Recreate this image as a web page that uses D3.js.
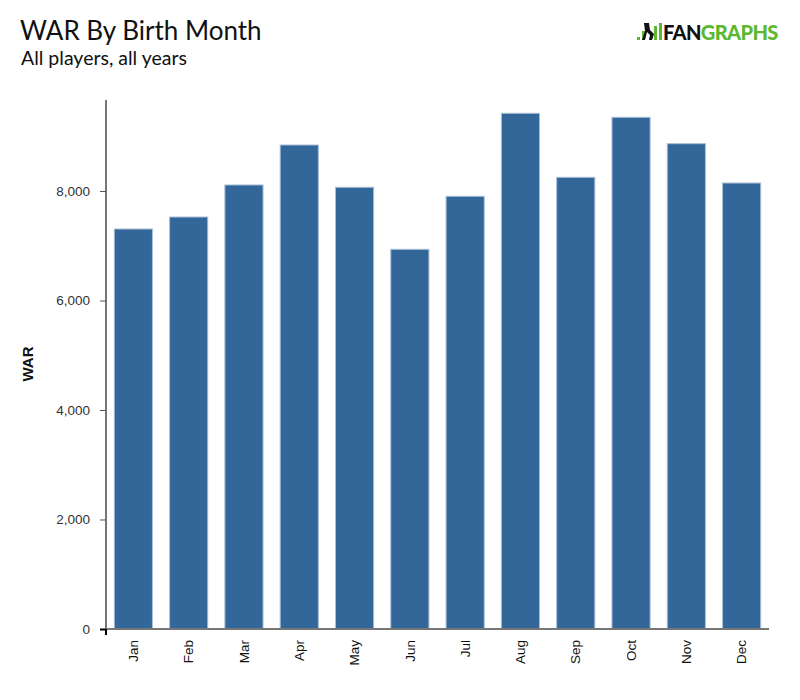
<!DOCTYPE html>
<html>
<head>
<meta charset="utf-8">
<script src="https://cdn.jsdelivr.net/npm/d3@7"></script>
<style>
  body { margin: 0; background: #fff; }
  svg { display: block; }
</style>
</head>
<body>
<div id="chart"></div>
<script>
// month labels and WAR totals
const months = ["Jan", "Feb", "Mar", "Apr", "May", "Jun", "Jul", "Aug", "Sep", "Oct", "Nov", "Dec"];
const war = [7306, 7525, 8110, 8840, 8068, 6935, 7903, 9419, 8250, 9346, 8864, 8146];
const yTicks = [0, 2000, 4000, 6000, 8000];

const W = 800, H = 700;
const margin = { top: 100, right: 31, bottom: 71, left: 106 };
const width = W - margin.left - margin.right,
    height = H - margin.top - margin.bottom;

const svg = d3.select("#chart").append("svg")
    .attr("width", W)
    .attr("height", H);

// titles
svg.append("text")
    .attr("x", 20).attr("y", 40)
    .style("font-family", "Lato")
    .style("font-size", "26px")
    .style("fill", "#111")
    .text("WAR By Birth Month");

svg.append("text")
    .attr("x", 21).attr("y", 65)
    .style("font-family", "Lato")
    .style("font-size", "19.5px")
    .style("fill", "#111")
    .text("All players, all years");

// fangraphs logo (rough)
const logo = svg.append("g").attr("transform", "translate(637,40)");
logo.append("rect").attr("x", 0).attr("y", -3).attr("width", 3).attr("height", 3).attr("fill", "#5cb82e");
logo.append("rect").attr("x", 5).attr("y", -9).attr("width", 3).attr("height", 9).attr("fill", "#5cb82e");
logo.append("path")
    .attr("d", "M7,-17 L12,-17 L13,-10 L17,-6 L15,0 L12,0 L13,-5 L10,-8 L8,0 L5,0 L8,-9 Z")
    .attr("fill", "#111");
logo.append("rect").attr("x", 17).attr("y", -14).attr("width", 3).attr("height", 14).attr("fill", "#5cb82e");
logo.append("rect").attr("x", 22).attr("y", -17).attr("width", 3).attr("height", 17).attr("fill", "#5cb82e");
logo.append("text")
    .attr("x", 26).attr("y", 0)
    .style("font-family", "Lato")
    .style("font-weight", "900")
    .style("font-size", "20px")
    .style("letter-spacing", "-0.6px")
    .html('<tspan fill="#111">FAN</tspan><tspan fill="#5cb82e">GRAPHS</tspan>');

const g = svg.append("g")
    .attr("transform", `translate(${margin.left},${margin.top})`);

const x = d3.scaleBand()
    .domain(months)
    .range([0, width])
    .paddingInner(0.31)
    .paddingOuter(0.15);

const y = d3.scaleLinear()
    .domain([0, 9662])
    .range([height, 0]);

// bars
g.append("g")
    .selectAll("rect")
    .data(months)
    .join("rect")
    .attr("x", d => x(d))
    .attr("y", (d, i) => y(war[i]))
    .attr("width", x.bandwidth())
    .attr("height", (d, i) => height - y(war[i]))
    .attr("fill", "#336699")
    .attr("stroke", "#a9bfd6")
    .attr("stroke-width", 1);

// y axis
const yAxis = g.append("g")
    .call(d3.axisLeft(y).tickValues(yTicks).tickSize(6).tickPadding(10).tickFormat(d3.format(",")));
yAxis.select(".domain").attr("stroke", "#777").attr("stroke-width", 2)
    .attr("d", `M0,0V${height}`);
yAxis.selectAll(".tick line").attr("stroke", "#555");
yAxis.selectAll(".tick text")
    .style("font-family", "Liberation Sans, Arial")
    .style("font-size", "13.5px")
    .style("fill", "#333");
yAxis.selectAll(".tick").filter(d => d === 0).select("line").attr("stroke", "#000").attr("stroke-width", 2);

// x axis
const xAxis = g.append("g")
    .attr("transform", `translate(0,${height})`)
    .call(d3.axisBottom(x).tickSize(0).tickPadding(0));
xAxis.select(".domain").attr("stroke", "#777").attr("stroke-width", 2)
    .attr("d", `M0,0H${width}`);
xAxis.selectAll(".tick text")
    .attr("transform", "rotate(-90)")
    .attr("x", -11)
    .attr("y", 0)
    .attr("dy", "0.35em")
    .style("text-anchor", "end")
    .style("font-family", "Liberation Sans, Arial")
    .style("font-size", "13.5px")
    .style("fill", "#111");

// origin tick
g.append("line")
    .attr("x1", 0).attr("x2", 0)
    .attr("y1", height).attr("y2", height + 6)
    .attr("stroke", "#000").attr("stroke-width", 2);

// y label
svg.append("text")
    .attr("transform", `translate(33,${margin.top + 264}) rotate(-90)`)
    .style("text-anchor", "middle")
    .style("font-family", "Liberation Sans, Arial")
    .style("font-weight", "bold")
    .style("font-size", "15px")
    .style("fill", "#111")
    .text("WAR");
</script>
</body>
</html>
